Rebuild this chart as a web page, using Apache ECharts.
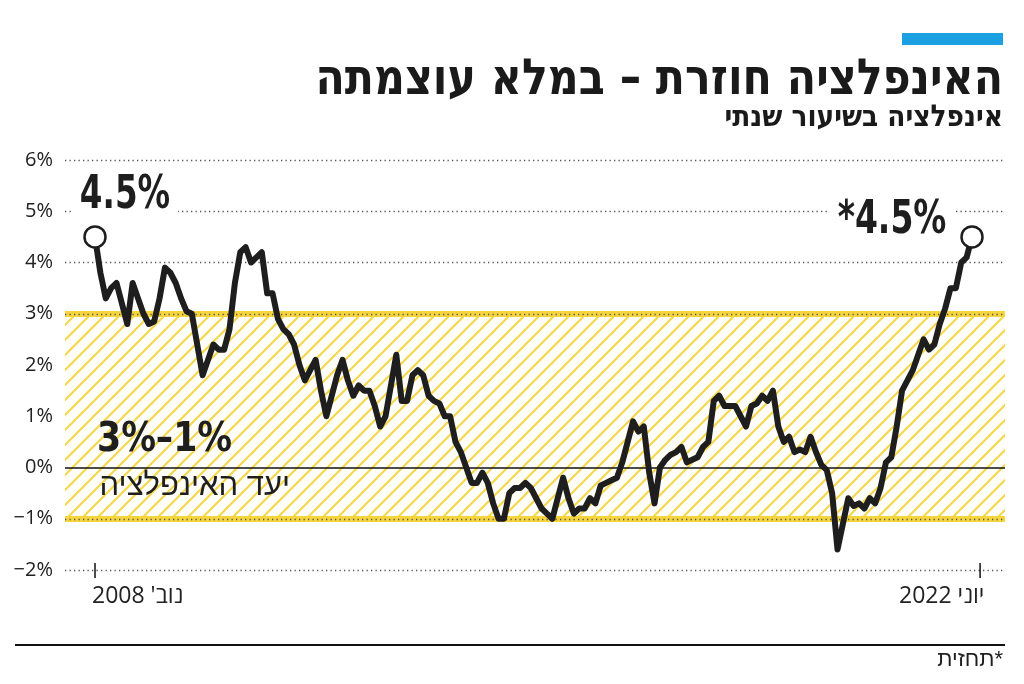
<!DOCTYPE html>
<html><head><meta charset="utf-8">
<script src="https://cdn.jsdelivr.net/npm/echarts@6/dist/echarts.min.js"></script>
<style>html,body{margin:0;padding:0;background:#fff}#c{width:1024px;height:684px}</style>
</head><body><div id="c"></div>
<script>
// Annual inflation, monthly, Nov 2008 (index 0) .. Jun 2022 (index 163, forecast)
const inflation = [
  4.5, 3.8, 3.3, 3.5, 3.6, 3.2, 2.8, 3.6, 3.3, 3.0, 2.8, 2.85, 3.3, 3.9, 3.8, 3.6, 3.3, 3.05, 3.0, 2.4,
  1.8, 2.1, 2.4, 2.3, 2.3, 2.7, 3.6, 4.2, 4.3, 4.0, 4.1, 4.2, 3.4, 3.4, 2.9, 2.7, 2.6, 2.4, 2.0, 1.7,
  1.9, 2.1, 1.5, 1.0, 1.4, 1.8, 2.1, 1.7, 1.4, 1.6, 1.5, 1.5, 1.2, 0.8, 1.0, 1.6, 2.2, 1.3, 1.3, 1.8,
  1.9, 1.8, 1.4, 1.3, 1.25, 1.0, 1.0, 0.5, 0.3, 0.0, -0.3, -0.3, -0.1, -0.3, -0.7, -1.0, -1.0, -0.5, -0.4, -0.4,
  -0.3, -0.4, -0.6, -0.8, -0.9, -1.0, -0.6, -0.2, -0.6, -0.9, -0.8, -0.8, -0.6, -0.7, -0.35, -0.3, -0.25, -0.2, 0.1, 0.5,
  0.9, 0.7, 0.8, -0.1, -0.7, 0.0, 0.15, 0.25, 0.3, 0.4, 0.1, 0.15, 0.2, 0.4, 0.5, 1.3, 1.4, 1.2, 1.2, 1.2,
  1.0, 0.8, 1.2, 1.25, 1.4, 1.3, 1.5, 0.8, 0.5, 0.6, 0.3, 0.35, 0.3, 0.6, 0.3, 0.05, -0.05, -0.5, -1.6, -1.1,
  -0.6, -0.75, -0.7, -0.8, -0.6, -0.7, -0.4, 0.1, 0.2, 0.8, 1.5, 1.7, 1.9, 2.2, 2.5, 2.3, 2.4, 2.8, 3.1, 3.5,
  3.5, 4.0, 4.1, 4.5
];
const yTickValues = [-2, -1, 0, 1, 2, 3, 4, 5, 6];
const xTickValues = [0, 164.5];
const targetBand = [-1, 3];
const startLabel = "2008 נוב'\u200F";
const endLabel = "2022 יוני";
const titleText = "האינפלציה חוזרת – במלא עוצמתה";
const subtitleText = "אינפלציה בשיעור שנתי";
const targetRangeText = "3%–1%";
const targetText = "יעד האינפלציה";
const footnoteText = "תחזית*";
const startValueLabel = inflation[0] + "%";
const endValueLabel = "*" + inflation[inflation.length - 1] + "%";

const last = inflation.length - 1;
const COND = "'DejaVu Sans Condensed', 'DejaVu Sans', sans-serif";
const SANS = "'Open Sans', 'Liberation Sans', 'DejaVu Sans', sans-serif";
const HEB = "'Liberation Sans', 'DejaVu Sans', sans-serif";

// hatch pattern
const P = 15;
const pc = document.createElement('canvas'); pc.width = P; pc.height = P;
const g = pc.getContext('2d');
g.fillStyle = '#fffef8'; g.fillRect(0, 0, P, P);
g.strokeStyle = '#f6d64a'; g.lineWidth = 2;
g.beginPath(); g.moveTo(-2, P + 2); g.lineTo(P + 2, -2); g.stroke();
g.beginPath(); g.moveTo(-2, 2); g.lineTo(2, -2); g.stroke();
g.beginPath(); g.moveTo(P - 2, P + 2); g.lineTo(P + 2, P - 2); g.stroke();

const xMin = -5.576, xMax = 169.13;
const chart = echarts.init(document.getElementById('c'));
const dotted = { color: '#555', width: 1.3, type: [1.3, 3.2] };
chart.setOption({
  animation: false,
  backgroundColor: '#fff',
  grid: { left: 65, right: 19, top: 160, bottom: 114 },
  xAxis: [
    { type: 'value', min: xMin, max: xMax, axisLine: { show: false }, splitLine: { show: false }, axisTick: { show: false },
      axisLabel: { customValues: [-0.55], formatter: () => startLabel, align: 'left', margin: 15, fontSize: 23, fontFamily: SANS, color: '#222' } },
    { type: 'value', min: xMin, max: xMax, position: 'bottom', axisLine: { show: false }, splitLine: { show: false },
      axisTick: { show: false },
      axisLabel: { customValues: [165.3], formatter: () => endLabel, align: 'right', margin: 15, fontSize: 23, fontFamily: SANS, color: '#222' } }
  ],
  yAxis: {
    type: 'value', min: -2, max: 6, interval: 1,
    axisLine: { show: false }, axisTick: { show: false },
    axisLabel: { margin: 12, fontSize: 20, fontFamily: SANS, color: '#222',
      formatter: v => (yTickValues.includes(v) ? (v < 0 ? '\u2212' + Math.abs(v) : v) + '%' : '') },
    splitLine: { lineStyle: dotted }
  },
  series: [
    { type: 'line', name: 'band', data: inflation.map((v, i) => [i, v]), showSymbol: false, silent: true,
      lineStyle: { opacity: 0 }, z: 1,
      markArea: { silent: true, itemStyle: { color: { image: pc, repeat: 'repeat' }, opacity: 1 },
        data: [[{ yAxis: targetBand[0] }, { yAxis: targetBand[1] }]] },
      markLine: { silent: true, symbol: 'none', label: { show: false },
        data: [
          { yAxis: targetBand[1], lineStyle: { color: '#f6d43c', width: 6, type: 'solid' } },
          { yAxis: targetBand[0], lineStyle: { color: '#f6d43c', width: 6, type: 'solid' } },
          { yAxis: targetBand[1], lineStyle: dotted },
          { yAxis: targetBand[0], lineStyle: dotted },
          { yAxis: 0, lineStyle: { color: '#111', width: 1.5, type: 'solid' } }
        ] } },
    { type: 'line', name: 'inflation', data: inflation.map((v, i) => [i, v]), showSymbol: false, z: 5,
      lineStyle: { color: '#1e1e1e', width: 6, join: 'round', cap: 'round' } },
    { type: 'scatter', name: 'ends', z: 6, symbolSize: 21,
      itemStyle: { color: '#fff', borderColor: '#1e1e1e', borderWidth: 2.5, opacity: 1 },
      data: [[0, inflation[0]], [last, inflation[last]]] }
  ]
});

const toPx = v => chart.convertToPixel({ xAxisIndex: 0, yAxisIndex: 0 }, v);
const p0 = toPx([0, inflation[0]]);
const p1 = toPx([last, inflation[last]]);
const ticks = xTickValues.map(x => {
  const p = toPx([x, yTickValues[0]]);
  return { type: 'line', z: 5, shape: { x1: p[0], y1: p[1] - 7, x2: p[0], y2: p[1] + 8 }, style: { stroke: '#111', lineWidth: 1.5 } };
});
const bigFont = 'bold 47px ' + COND;
chart.setOption({
  graphic: [
    { type: 'rect', shape: { x: 902, y: 33, width: 101, height: 12 }, style: { fill: '#1ba1e2' } },
    { type: 'text', x: 1003, y: 81, scaleX: 0.95, style: { text: titleText, font: 'bold 50px ' + COND, fill: '#1a1a1a', align: 'right', verticalAlign: 'middle' } },
    { type: 'text', x: 1003, y: 118, scaleX: 0.98, style: { text: subtitleText, font: 'bold 30px ' + COND, fill: '#1a1a1a', align: 'right', verticalAlign: 'middle' } },
    { type: 'line', shape: { x1: 15, y1: 645, x2: 1005, y2: 645 }, style: { stroke: '#111', lineWidth: 2 } },
    ...ticks,
    { type: 'text', z: 4, x: p0[0] + 30, y: p0[1] - 41, scaleX: 0.77,
      style: { text: startValueLabel, font: bigFont, fill: '#1e1e1e', align: 'center', verticalAlign: 'middle', backgroundColor: '#fff', padding: [0, 10] } },
    { type: 'text', z: 4, x: p1[0] - 80, y: p1[1] - 16, scaleX: 0.78,
      style: { text: endValueLabel, font: bigFont, fill: '#1e1e1e', align: 'center', verticalAlign: 'middle', backgroundColor: '#fff', padding: [0, 10] } },
    { type: 'text', z: 4, x: 97, y: 440, scaleX: 0.94, style: { text: targetRangeText, font: 'bold 41px ' + COND, fill: '#1e1e1e', align: 'left', verticalAlign: 'middle' } },
    { type: 'text', z: 4, x: 290, y: 486, style: { text: targetText, font: '31px ' + HEB, fill: '#1e1e1e', align: 'right', verticalAlign: 'middle' } },
    { type: 'text', x: 1003, y: 660, style: { text: footnoteText, font: '22px ' + HEB, fill: '#1e1e1e', align: 'right', verticalAlign: 'middle' } }
  ]
});
</script></body></html>
